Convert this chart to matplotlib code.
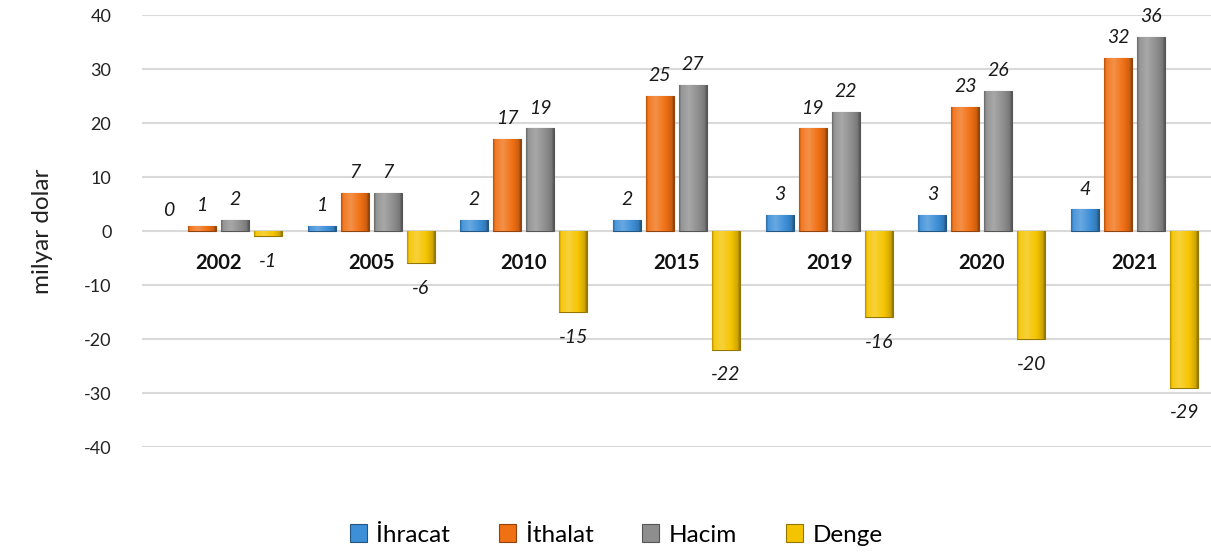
import numpy as np
import matplotlib
matplotlib.use("Agg")
import matplotlib.pyplot as plt
from matplotlib.patches import Patch
from matplotlib.colors import to_rgb

years = ["2002", "2005", "2010", "2015", "2019", "2020", "2021"]
series_names = ["İhracat", "İthalat", "Hacim", "Denge"]
ihracat = [0, 1, 2, 2, 3, 3, 4]
ithalat = [1, 7, 17, 25, 19, 23, 32]
hacim = [2, 7, 19, 27, 22, 26, 36]
denge = [-1, -6, -15, -22, -16, -20, -29]
yticks = [-40, -30, -20, -10, 0, 10, 20, 30, 40]

series = [ihracat, ithalat, hacim, denge]
colors = ["#3d8fd8", "#f07014", "#8e8e8e", "#f5c400"]

plt.rcParams['font.family'] = ['Lato', 'DejaVu Sans']

fig = plt.figure(figsize=(12.11, 5.56), dpi=100)
ax = fig.add_axes([142/1211, 1-447/556, 1-142/1211, 432/556])

x = np.arange(len(years))
pitch = 0.216
width = 0.183

def gradient_img(color):
    base = np.array(to_rgb(color))
    t = np.linspace(0, 1, 64)
    f = np.interp(t, [0, 0.08, 0.35, 0.7, 0.92, 1.0], [0.75, 1.05, 1.15, 1.0, 0.85, 0.6])
    rows = []
    for ff in f:
        c = base * ff if ff <= 1 else base + (1 - base) * (ff - 1) * 1.5
        rows.append(np.clip(c, 0, 1))
    return np.array(rows)[None, :, :]

for i, (vals, col) in enumerate(zip(series, colors)):
    xs = x + (i - 1.5) * pitch
    edge = matplotlib.colors.to_hex(np.array(to_rgb(col)) * 0.6)
    bars = ax.bar(xs, vals, width=width, color=col, edgecolor=edge, linewidth=0.8, zorder=3)
    img = gradient_img(col)
    for b, v in zip(bars, vals):
        if v == 0:
            b.set_linewidth(0)
            continue
        bx, by = b.get_x(), b.get_y()
        bw, bh = b.get_width(), b.get_height()
        im = ax.imshow(img, extent=(bx, bx + bw, min(by, by + bh), max(by, by + bh)),
                       aspect='auto', zorder=3.5, interpolation='bilinear')
        im.set_clip_path(b)
    for xx, v in zip(xs, vals):
        if v >= 0:
            ax.annotate(f"{v}", (xx, v), xytext=(0, 8.5), textcoords='offset points',
                        ha='center', va='bottom', fontsize=14, style='italic', color='#1a1a1a')
        else:
            ax.annotate(f"{v}", (xx, v), xytext=(0, -12), textcoords='offset points',
                        ha='center', va='top', fontsize=14, style='italic', color='#1a1a1a')

for xx, yl in zip(x, years):
    ax.text(xx, -6.0, yl, ha='center', va='center', fontsize=14.5, fontweight='bold', color='#111111', zorder=5)

ax.set_xlim(-0.5, len(years) - 0.5)
ax.set_ylim(-40, 40)
ax.set_yticks(yticks)
ax.set_yticklabels([str(v) for v in yticks], fontsize=13, color='#222222')
ax.set_xticks([])
ax.tick_params(axis='y', length=0, pad=22)
for s in ax.spines.values():
    s.set_visible(False)
ax.yaxis.grid(True, color='#d9d9d9', linewidth=1.5, zorder=0)
ax.set_axisbelow(True)
ax.set_ylabel("milyar dolar", fontsize=17.5, color='#222222', labelpad=22)

handles = [Patch(facecolor=c, edgecolor=matplotlib.colors.to_hex(np.array(to_rgb(c)) * 0.6), linewidth=0.8)
           for c in colors]
fig.legend(handles, series_names, loc='center', bbox_to_anchor=(616/1211, 1-535/556), ncol=4,
           frameon=False, fontsize=17.5, handlelength=0.7, handleheight=0.7, handletextpad=0.4,
           columnspacing=2.0)

fig.savefig("out.png", dpi=100)
